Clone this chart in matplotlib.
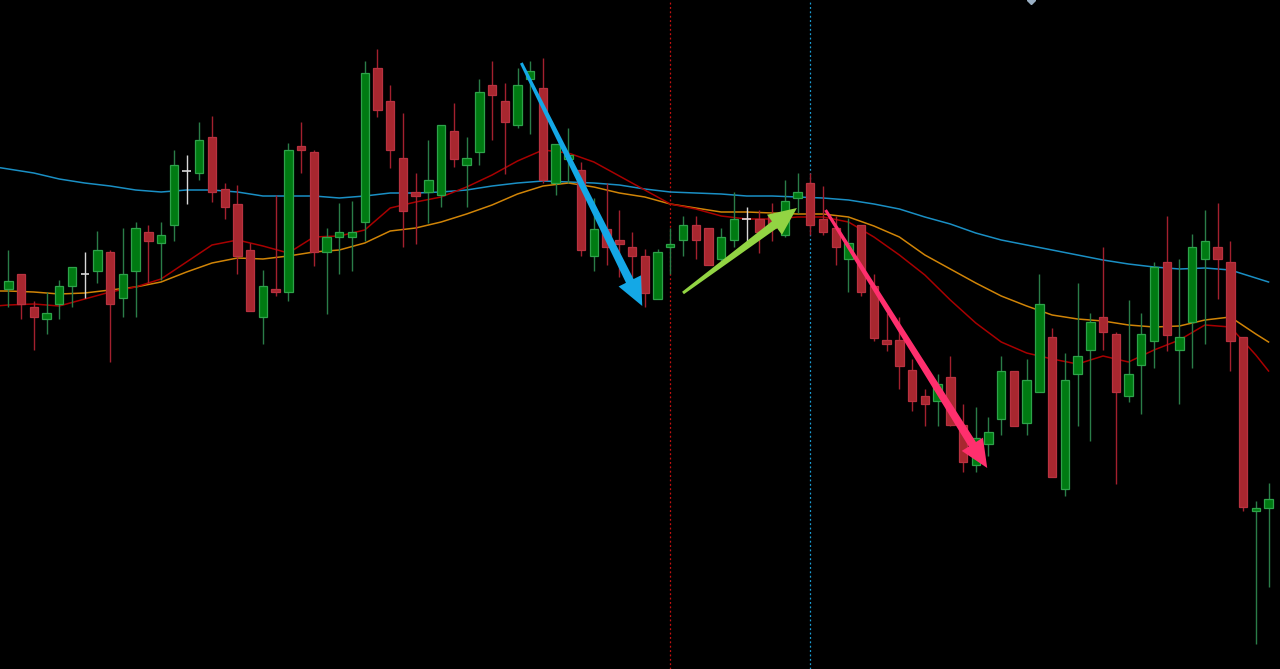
import matplotlib
matplotlib.use("Agg")
import matplotlib.pyplot as plt
from matplotlib.patches import Polygon
from matplotlib.transforms import IdentityTransform
import numpy as np

# ---- candle data (price units) ----
opens = [380, 395, 362, 350, 365, 383, 395, 398, 417, 371,
         398, 437, 426, 444, 498, 496, 532, 480, 465, 419,
         352, 380, 377, 523, 517, 417, 432, 432, 447, 601,
         568, 511, 477, 477, 474, 538, 504, 517, 584, 568,
         544, 590, 581, 486, 510, 499, 413, 440, 429, 422,
         413, 370, 422, 429, 444, 441, 410, 429, 450, 450,
         453, 434, 471, 486, 450, 441, 410, 444, 383, 329,
         329, 299, 273, 268, 292, 244, 204, 225, 250, 298,
         246, 277, 332, 180, 295, 319, 352, 335, 273, 304,
         328, 407, 319, 347, 410, 422, 407, 332, 158, 161]
highs = [419, 395, 368, 377, 389, 402, 417, 438, 419, 441,
         447, 444, 447, 519, 514, 547, 553, 486, 484, 426,
         399, 474, 526, 547, 519, 441, 466, 468, 608, 620,
         584, 556, 496, 529, 544, 566, 532, 590, 608, 586,
         601, 608, 611, 525, 541, 507, 471, 486, 459, 437,
         420, 420, 441, 453, 453, 441, 441, 477, 462, 459,
         466, 489, 496, 496, 483, 453, 451, 444, 395, 356,
         352, 310, 280, 295, 313, 265, 262, 252, 313, 298,
         310, 395, 341, 316, 386, 356, 422, 337, 369, 356,
         407, 453, 410, 435, 459, 466, 428, 332, 168, 186]
lows = [362, 350, 319, 335, 350, 362, 371, 386, 307, 352,
        352, 386, 389, 428, 465, 489, 467, 450, 395, 358,
        325, 373, 368, 496, 403, 355, 395, 398, 428, 552,
        501, 422, 425, 446, 462, 502, 462, 504, 529, 495,
        541, 535, 486, 474, 486, 413, 398, 404, 392, 392,
        362, 370, 395, 413, 410, 404, 407, 422, 422, 416,
        428, 432, 456, 434, 434, 404, 377, 373, 328, 318,
        280, 258, 243, 243, 243, 197, 197, 213, 234, 243,
        234, 277, 192, 173, 243, 228, 319, 185, 267, 255,
        301, 318, 265, 301, 325, 370, 298, 158, 25, 82]
closes = [388, 365, 352, 356, 383, 402, 395, 419, 365, 395,
          441, 428, 434, 504, 498, 529, 477, 462, 413, 358,
          383, 377, 519, 519, 417, 432, 437, 437, 596, 559,
          519, 458, 473, 489, 544, 510, 511, 577, 574, 547,
          584, 598, 489, 525, 514, 419, 440, 422, 425, 413,
          376, 417, 425, 444, 429, 404, 432, 450, 450, 437,
          441, 468, 477, 444, 437, 422, 426, 377, 331, 325,
          303, 268, 265, 285, 244, 207, 231, 237, 298, 243,
          289, 365, 192, 289, 313, 347, 337, 277, 295, 335,
          402, 334, 332, 422, 428, 410, 328, 162, 161, 170]

# ---- moving averages (candle index, value) ----
ma_idx = [-1, 0, 2, 4, 6, 8, 10, 12, 14, 16, 18, 20, 22, 24, 26, 28, 30, 32, 34,
          36, 38, 40, 42, 44, 46, 48, 50, 52, 54, 56, 58, 60, 62, 64, 66, 68,
          70, 72, 74, 76, 78, 80, 82, 84, 86, 88, 90, 92, 94, 96, 98, 99]
ma_long = [502, 500, 496, 490, 486, 483, 479, 477, 479, 479, 477, 473, 473, 473,
           471, 473, 476, 476, 477, 479, 483, 486, 488, 487, 486, 484, 480, 477,
           476, 475, 473, 473, 472, 471, 469, 465, 460, 452, 445, 436, 429, 424,
           419, 414, 409, 405, 402, 400, 401, 399, 391, 387]
ma_mid = [378, 378, 377, 375, 376, 379, 382, 387, 397, 406, 411, 410, 413, 417,
          419, 426, 438, 441, 447, 455, 464, 475, 483, 486, 482, 476, 472, 465,
          461, 457, 457, 456, 455, 455, 452, 443, 432, 414, 400, 386, 373, 363,
          354, 350, 348, 344, 342, 343, 349, 352, 335, 327]
ma_short = [363, 364, 365, 363, 370, 377, 382, 390, 407, 424, 429, 423, 416, 432,
            433, 439, 461, 467, 472, 482, 494, 508, 519, 516, 507, 493, 479, 465,
            460, 453, 450, 450, 452, 452, 447, 432, 414, 394, 369, 346, 327, 316,
            310, 305, 313, 307, 319, 329, 344, 342, 314, 298]

# ---- annotations ----
vline_red_idx = 52
vline_cyan_idx = 63
arrows = [  # (start_idx, start_price, end_idx, end_price, colour)
    (40.3, 606, 49.8, 363, "#14a8e6"),
    (53.0, 376, 61.95, 461, "#92d443"),
    (64.2, 459, 76.9, 201, "#ff2f6e"),
]
marker_idx = 80.3

BG = "#000000"
UP_FACE, UP_EDGE, UP_WICK = "#007a12", "#2ea24a", "#2a7d48"
DN_FACE, DN_EDGE, DN_WICK = "#a8272f", "#b83240", "#a3202e"
DOJI = "#d8d8d8"

fig = plt.figure(figsize=(12.8, 6.69), dpi=100, facecolor=BG)
ax = fig.add_axes([0, 0, 1, 1])
ax.set_facecolor(BG)

x = np.arange(len(opens))
o = np.array(opens, float); h = np.array(highs, float)
l = np.array(lows, float); c = np.array(closes, float)
width = 0.66

# moving averages (behind candles)
ax.plot(ma_idx, ma_long, color="#1a8fc4", lw=1.1, zorder=1)
ax.plot(ma_idx, ma_mid, color="#d08407", lw=1.1, zorder=1)
ax.plot(ma_idx, ma_short, color="#a80000", lw=1.1, zorder=1)

doji = o == c
up = (c > o)
dn = (c < o)

ax.vlines(x[up], l[up], h[up], color=UP_WICK, lw=1.0, zorder=2)
ax.vlines(x[dn], l[dn], h[dn], color=DN_WICK, lw=1.0, zorder=2)
ax.vlines(x[doji], l[doji], h[doji], color=DOJI, lw=1.0, zorder=2)

ax.bar(x[up], c[up] - o[up], bottom=o[up], width=width, color=UP_FACE,
       edgecolor=UP_EDGE, linewidth=0.9, zorder=3)
ax.bar(x[dn], o[dn] - c[dn], bottom=c[dn], width=width, color=DN_FACE,
       edgecolor=DN_EDGE, linewidth=0.9, zorder=3)
ax.hlines(o[doji], x[doji] - width / 2, x[doji] + width / 2, color=DOJI, lw=1.2, zorder=3)

# vertical dotted separators
ax.axvline(vline_red_idx, color="#c81010", lw=0.9, ls=(0, (1.5, 2)), zorder=0.5)
ax.axvline(vline_cyan_idx, color="#1c9fd6", lw=0.9, ls=(0, (1.5, 2)), zorder=0.5)

ax.set_xlim(-0.654, 99.9)
ax.set_ylim(0, 669)
ax.axis("off")

# arrows: tapered shaft (thin at start, thicker at the head), drawn in pixels
w_start, w_neck, head_len, head_half = 3.0, 8.5, 28.0, 12.5
for sx, sy, ex, ey, col in arrows:
    S = ax.transData.transform((sx, sy))
    E = ax.transData.transform((ex, ey))
    d = (E - S) / np.hypot(*(E - S))
    n = np.array([-d[1], d[0]])
    N = E - d * head_len
    pts = [S + n * w_start / 2, N + n * w_neck / 2, N + n * head_half, E,
           N - n * head_half, N - n * w_neck / 2, S - n * w_start / 2]
    ax.add_patch(Polygon(pts, closed=True, transform=IdentityTransform(),
                         facecolor=col, edgecolor="none", zorder=5))

ax.plot([marker_idx], [669], marker="D", ms=4.5, color="#9ab0c4", clip_on=True, zorder=6)

fig.savefig("out.png", dpi=100, facecolor=BG)
